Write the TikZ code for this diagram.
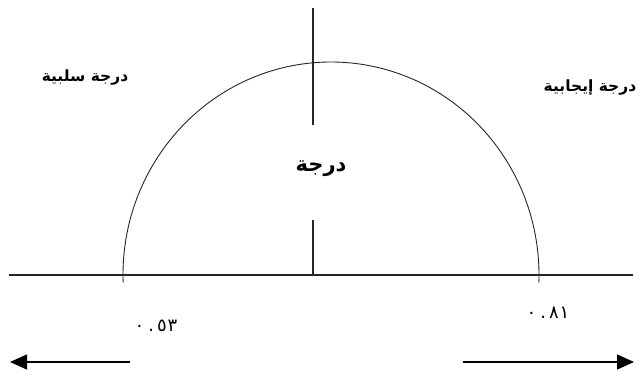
\documentclass[tikz,border=0pt]{standalone}
\usepackage{fontspec}
\newfontfamily\arabicfont[Script=Arabic]{DejaVu Sans}
\usetikzlibrary{arrows.meta,positioning}
\newcommand{\rtlword}[1]{\TeXXeTstate=1 \beginR#1\endR}

\begin{document}
\begin{tikzpicture}[
  x=1pt, y=1pt,
  line/.style={line width=1.1pt, black!85},
  curve/.style={line width=0.9pt, black!85},
  arr/.style={line width=1.2pt, -{Triangle[length=17pt, width=15pt]}},
  lbl/.style={font=\arabicfont\bfseries\fontsize{15.5}{17}\selectfont, inner sep=0pt},
  title/.style={font=\arabicfont\bfseries\fontsize{21}{23}\selectfont, inner sep=0pt},
  num/.style={font=\arabicfont\fontsize{18}{20}\selectfont, inner sep=0pt}
]
  \useasboundingbox (0,0) rectangle (640,372);
  \coordinate (base-l) at (9,97);
  \coordinate (base-r) at (633,97);
  \coordinate (axis-top) at (313,364);
  \coordinate (axis-up) at (313,247);
  \coordinate (axis-low) at (313,152);
  \coordinate (axis-foot) at (313,97);
  \coordinate (mid) at (331,97);
  \draw[line] (base-l) -- (base-r);
  \draw[line] (axis-top) -- (axis-up);
  \draw[line] (axis-low) -- (axis-foot);
  \draw[curve] ([shift={(182:208 and 213)}]mid) arc[start angle=182, end angle=-2, x radius=208, y radius=213];
  \node[title] (grade) at (321,203) {\rtlword{درجة}};
  \node[lbl] (neg) at (85,294) {\rtlword{سلبية}\ \rtlword{درجة}};
  \node[lbl] (pos) at (590,284) {\rtlword{إيجابية}\ \rtlword{درجة}};
  \node[num] (lowval) at (156,46) {٠\kern4pt.\kern3pt٥\kern1pt٣};
  \node[num] (highval) at (548,59) {٠\kern4pt.\kern3pt٨\kern1pt١};
  \coordinate (neg-tail) at (130,10);
  \coordinate (neg-tip) at (10,10);
  \coordinate (pos-tail) at (463,10);
  \coordinate (pos-tip) at (634,10);
  \draw[arr] (neg-tail) -- (neg-tip);
  \draw[arr] (pos-tail) -- (pos-tip);
\end{tikzpicture}
\end{document}
